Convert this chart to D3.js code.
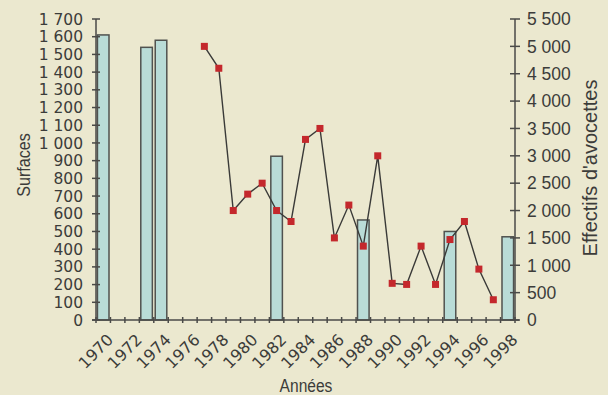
<!DOCTYPE html>
<html><head><meta charset="utf-8">
<script src="https://cdn.jsdelivr.net/npm/d3@7"></script>
<style>
html,body{margin:0;padding:0;background:#ebe8cf;}
svg{display:block;}
</style></head>
<body>
<svg id="chart" width="608" height="395"></svg>
<script>
// Data
const years = d3.range(1970, 1999);
const surfaceYears = [1970, 1973, 1974, 1982, 1988, 1994, 1998];
const surfaceValues = [1610, 1540, 1580, 925, 565, 500, 470];
const avocetteYears = [1977,1978,1979,1980,1981,1982,1983,1984,1985,1986,1987,1988,1989,1990,1991,1992,1993,1994,1995,1996,1997];
const avocetteValues = [5000,4600,2000,2300,2500,2000,1800,3300,3500,1500,2100,1350,3000,670,650,1350,650,1470,1800,930,370];
const leftTicks = d3.range(0, 1701, 100);
const rightTicks = d3.range(0, 5501, 500);
const xLabelYears = d3.range(1970, 1999, 2);

(function(){
const svg = d3.select("#chart");
const pLeft = 96, pRight = 515, pBottom = 320, pTop = 19;

const x = d3.scaleBand().domain(years).range([pLeft, pRight]);
const yL = d3.scaleLinear().domain([0, 1700]).range([pBottom, pTop]);
const yR = d3.scaleLinear().domain([0, 5500]).range([pBottom, pTop]);

const fmt = v => v >= 1000 ? Math.floor(v/1000) + "\u00a0" + String(v % 1000).padStart(3, "0") : String(v);
const axisColor = "#4a4a48";
const textColor = "#3c3c3a";

// Bars
const bw = x.bandwidth() * 0.8;
svg.append("g").selectAll("rect").data(surfaceYears).join("rect")
  .attr("x", (d) => x(d) + (x.bandwidth() - bw) / 2)
  .attr("y", (d, i) => yL(surfaceValues[i]))
  .attr("width", bw)
  .attr("height", (d, i) => yL(0) - yL(surfaceValues[i]))
  .attr("fill", "#b9dcd7")
  .attr("stroke", "#50524f")
  .attr("stroke-width", 1.5);

// Axes lines
const g = svg.append("g").attr("stroke", axisColor).attr("stroke-width", 1.5);
g.append("line").attr("x1", pLeft).attr("x2", pLeft).attr("y1", yL(1700)).attr("y2", yL(0));
g.append("line").attr("x1", pRight).attr("x2", pRight).attr("y1", yR(5500)).attr("y2", yR(0));
g.append("line").attr("x1", pLeft - 4).attr("x2", pRight + 4).attr("y1", pBottom).attr("y2", pBottom);
g.selectAll(".lt").data(leftTicks).join("line").attr("class","lt")
  .attr("x1", pLeft - 4).attr("x2", pLeft + 4).attr("y1", d => yL(d)).attr("y2", d => yL(d));
g.selectAll(".rt").data(rightTicks).join("line").attr("class","rt")
  .attr("x1", pRight - 5).attr("x2", pRight + 5).attr("y1", d => yR(d)).attr("y2", d => yR(d));
const xt = years.map(y => x(y)).concat([pRight]);
g.selectAll(".xt").data(xt).join("line").attr("class","xt")
  .attr("x1", d => d).attr("x2", d => d).attr("y1", pBottom - 3).attr("y2", pBottom + 3);

// Left tick labels
svg.append("g").selectAll("text").data(leftTicks).join("text")
  .attr("x", 83).attr("y", d => yL(d)).attr("dy", "0.36em")
  .attr("text-anchor", "end")
  .attr("font-family", "DejaVu Sans").attr("font-size", 15.5).attr("fill", textColor)
  .text(d => fmt(d));
// Right tick labels
svg.append("g").selectAll("text").data(rightTicks).join("text")
  .attr("x", 527).attr("y", d => yR(d)).attr("dy", "0.36em")
  .attr("text-anchor", "start")
  .attr("font-family", "Liberation Sans").attr("font-size", 17.5).attr("fill", textColor)
  .text(d => fmt(d));
// X labels
svg.append("g").selectAll("text").data(xLabelYears).join("text")
  .attr("transform", d => `translate(${x(d) + x.bandwidth()/2 + 3},${pBottom + 13}) rotate(-45)`)
  .attr("text-anchor", "end").attr("dy", "0.7em")
  .attr("font-family", "DejaVu Sans").attr("font-size", 16).attr("fill", textColor)
  .text(d => d);

// Line
const line = d3.line().x((d, i) => x(avocetteYears[i]) + x.bandwidth()/2).y(d => yR(d));
svg.append("path").datum(avocetteValues).attr("d", line)
  .attr("fill", "none").attr("stroke", "#3a3a38").attr("stroke-width", 1.4);
svg.append("g").selectAll("rect").data(avocetteValues).join("rect")
  .attr("x", (d, i) => x(avocetteYears[i]) + x.bandwidth()/2 - 3.5)
  .attr("y", d => yR(d) - 3.5)
  .attr("width", 7).attr("height", 7)
  .attr("fill", "#c4282c");

// Titles
svg.append("text").attr("transform", "translate(30,165) rotate(-90) scale(0.85,1)")
  .attr("text-anchor", "middle")
  .attr("font-family", "Liberation Sans").attr("font-size", 19).attr("fill", textColor)
  .text("Surfaces");
svg.append("text").attr("transform", "translate(597,168) rotate(-90)")
  .attr("text-anchor", "middle")
  .attr("font-family", "Liberation Sans").attr("font-size", 20).attr("fill", textColor)
  .text("Effectifs d'avocettes");
svg.append("text").attr("transform", "translate(306,392) scale(0.82,1)")
  .attr("text-anchor", "middle")
  .attr("font-family", "Liberation Sans").attr("font-size", 19).attr("fill", textColor)
  .text("Années");
})();
</script>
</body></html>
